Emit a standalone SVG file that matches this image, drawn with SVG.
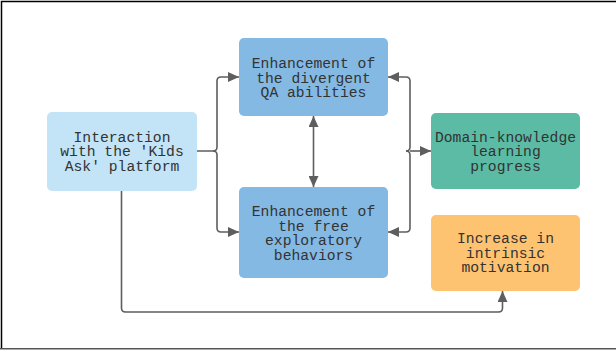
<svg xmlns="http://www.w3.org/2000/svg" width="616" height="350" viewBox="0 0 616 350">
<defs>
<marker id="ah" markerUnits="userSpaceOnUse" markerWidth="12" markerHeight="10" refX="11" refY="5" orient="auto">
<path d="M0,0 L11,5 L0,10 Z" fill="#5e5e5e"/>
</marker>
<marker id="ahs" markerUnits="userSpaceOnUse" markerWidth="12" markerHeight="10" refX="11" refY="5" orient="auto-start-reverse">
<path d="M0,0 L11,5 L0,10 Z" fill="#5e5e5e"/>
</marker>
</defs>
<style>
.t{font-family:"Liberation Mono","DejaVu Sans Mono",monospace;font-size:14.7px;fill:#333333;text-anchor:middle}
.c{fill:none;stroke:#5e5e5e;stroke-width:1.6}
</style>
<rect x="0" y="0" width="616" height="350" fill="#ffffff"/>
<path d="M1.5,349 V1.5 H616" fill="none" stroke="#000000" stroke-width="1.5"/>
<line x1="0" y1="348.7" x2="616" y2="348.7" stroke="#555555" stroke-width="1.5"/>
<g id="connectors">
<path class="c" d="M197,151 H213 Q217,151 217,147 V81 Q217,77 221,77 H239" marker-end="url(#ah)"/>
<path class="c" d="M213,151 Q217,151 217,155 V228 Q217,232 221,232 H239" marker-end="url(#ah)"/>
<path class="c" d="M313.5,116 V187" marker-start="url(#ahs)" marker-end="url(#ah)"/>
<path class="c" d="M406,151 Q410,151 410,147 V81 Q410,77 406,77 H388" marker-end="url(#ah)"/>
<path class="c" d="M406,151 Q410,151 410,155 V228 Q410,232 406,232 H388" marker-end="url(#ah)"/>
<path class="c" d="M410,151 H431" marker-end="url(#ah)"/>
<path class="c" d="M121.5,191 V308 Q121.5,312 125.5,312 H498.5 Q502.5,312 502.5,308 V291" marker-end="url(#ah)"/>
</g>
<g id="interaction">
<rect x="47" y="112" width="150" height="79" rx="5" fill="#c3e4f6"/>
<text class="t" x="122" y="141.5">Interaction</text>
<text class="t" x="122" y="156.2">with the 'Kids</text>
<text class="t" x="122" y="170.9">Ask' platform</text>
</g>
<g id="divergent">
<rect x="239" y="38" width="149" height="78" rx="5" fill="#84b9e3"/>
<text class="t" x="313.5" y="68">Enhancement of</text>
<text class="t" x="313.5" y="82.7">the divergent</text>
<text class="t" x="313.5" y="97.4">QA abilities</text>
</g>
<g id="exploratory">
<rect x="239" y="187" width="149" height="91" rx="5" fill="#84b9e3"/>
<text class="t" x="313.5" y="216">Enhancement of</text>
<text class="t" x="313.5" y="230.7">the free</text>
<text class="t" x="313.5" y="245.4">exploratory</text>
<text class="t" x="313.5" y="260.1">behaviors</text>
</g>
<g id="domain">
<rect x="431" y="113" width="149" height="76" rx="5" fill="#5bbba5"/>
<text class="t" x="505.5" y="141.5">Domain-knowledge</text>
<text class="t" x="505.5" y="156.2">learning</text>
<text class="t" x="505.5" y="170.9">progress</text>
</g>
<g id="motivation">
<rect x="431" y="215" width="149" height="76" rx="5" fill="#fec370"/>
<text class="t" x="505.5" y="243">Increase in</text>
<text class="t" x="505.5" y="257.7">intrinsic</text>
<text class="t" x="505.5" y="272.4">motivation</text>
</g>
</svg>
